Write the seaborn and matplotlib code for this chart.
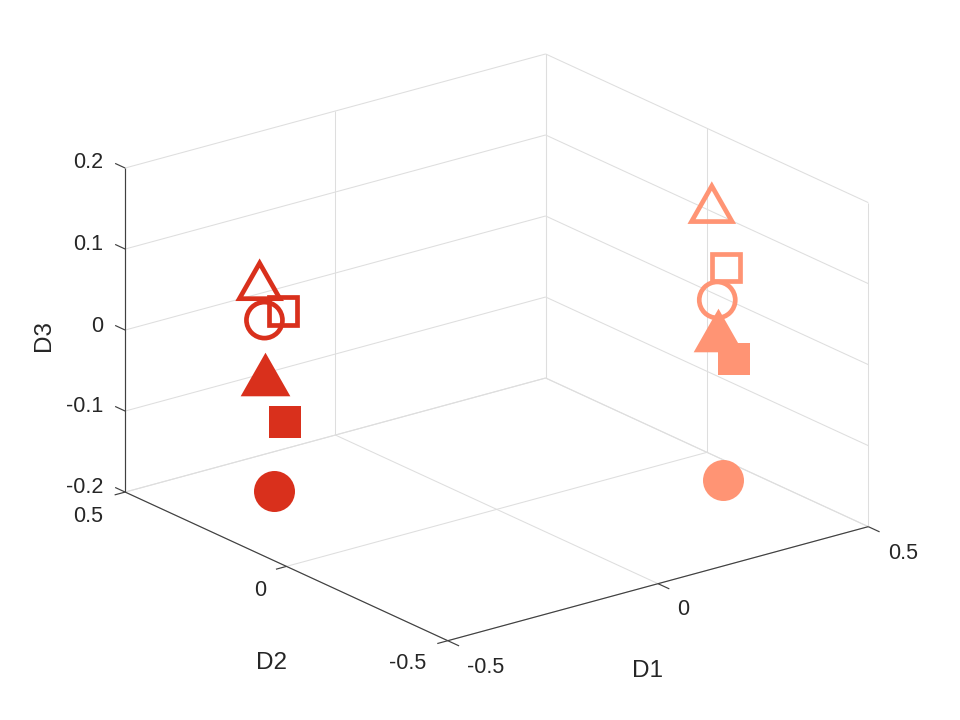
import matplotlib
matplotlib.use('Agg')
import matplotlib.pyplot as plt
from matplotlib.path import Path
import seaborn as sns

# marker positions, one array per axis
d1_dark = [-0.326, -0.270, -0.3145, -0.312, -0.266, -0.292]
d2_dark = [0.31, 0.31, 0.31, 0.31, 0.31, 0.31]
d3_dark = [0.071, 0.026, 0.021, -0.046, -0.112, -0.193]

d1_light = [0.279, 0.313, 0.292, 0.294, 0.332, 0.305]
d2_light = [-0.303, -0.303, -0.303, -0.303, -0.303, -0.303]
d3_light = [0.1935, 0.110, 0.073, 0.035, -0.006, -0.151]

shapes = ['tri', 's', 'o', 'tri', 's', 'o']
filled = [False, False, False, True, True, True]

d1_ticks = [-0.5, 0, 0.5]
d2_ticks = [-0.5, 0, 0.5]
d3_ticks = [-0.2, -0.1, 0, 0.1, 0.2]
d3_labels = ['-0.2', '-0.1', '0', '0.1', '0.2']

dark_color = '#D9301C'
light_color = '#FF9474'
grid_color = '#DEDEDE'
axis_color = '#404040'
text_color = '#262626'

sns.set_style('white')
plt.rcParams['font.family'] = ['Liberation Sans', 'DejaVu Sans']

tri_shape = Path([(-0.57, -0.5), (0.57, -0.5), (0, 0.5), (-0.57, -0.5)], closed=True)


def px(n):
    return n * 72 / 100


fig = plt.figure(figsize=(9.6, 7.2), dpi=100)
# axes larger than the figure so the box is not clipped by the square 3d axes
ax = fig.add_axes([-16.8 / 960, -140.85 / 720, 1000 / 960, 1000 / 720], projection='3d')
ax.set_proj_type('ortho')
ax.view_init(elev=20.7, azim=-127.5)
ax.set_box_aspect((530, 530, 346.4), zoom=0.8016)
ax.set_xlim(-0.5, 0.5)
ax.set_ylim(-0.5, 0.5)
ax.set_zlim(-0.2, 0.2)
ax.set_axis_off()
ax.computed_zorder = False


def line(xs, ys, zs, color=grid_color, lw=0.75):
    ax.plot(xs, ys, zs, color=color, lw=lw, solid_capstyle='butt', zorder=1)


# walls and floor grid
for v in d1_ticks:
    line([v, v], [0.5, 0.5], [-0.2, 0.2])
    line([v, v], [-0.5, 0.5], [-0.2, -0.2])
for v in d2_ticks:
    line([-0.5, 0.5], [v, v], [-0.2, -0.2])
    line([0.5, 0.5], [v, v], [-0.2, 0.2])
for v in d3_ticks:
    line([-0.5, 0.5], [0.5, 0.5], [v, v])
    line([0.5, 0.5], [-0.5, 0.5], [v, v])

# dark box edges
line([-0.5, 0.5], [-0.5, -0.5], [-0.2, -0.2], axis_color, 0.85)
line([-0.5, -0.5], [-0.5, 0.5], [-0.2, -0.2], axis_color, 0.85)
line([-0.5, -0.5], [0.5, 0.5], [-0.2, 0.2], axis_color, 0.85)

# ticks point outward from the box
for v in d1_ticks:
    line([v, v], [-0.5, -0.535], [-0.2, -0.2], axis_color, 0.85)
for v in d2_ticks:
    line([-0.5, -0.525], [v, v], [-0.2, -0.2], axis_color, 0.85)
for v in d3_ticks:
    line([-0.5, -0.5], [0.5, 0.531], [v, v], axis_color, 0.85)

# markers
for xs, ys, zs, color in [(d1_dark, d2_dark, d3_dark, dark_color),
                          (d1_light, d2_light, d3_light, light_color)]:
    for i in range(6):
        solid = filled[i]
        if shapes[i] == 'tri':
            marker, size = tri_shape, 49.7 if solid else 40.5
        elif shapes[i] == 's':
            marker, size = 's', 32 if solid else 27.5
        else:
            marker, size = 'o', 41 if solid else 36
        ax.scatter([xs[i]], [ys[i]], [zs[i]], marker=marker, s=px(size) ** 2,
                   facecolors=color if solid else 'none',
                   edgecolors=color, linewidths=0 if solid else px(4.7),
                   joinstyle='miter', depthshade=False, zorder=5 + i)


# tick labels and axis titles are placed in figure pixels
def label(x, y, s, size=15.5, ha='center', **kw):
    fig.text(x / 960, 1 - y / 720, s, fontsize=size, color=text_color,
             ha=ha, va='baseline', **kw)


for y, s in zip([493, 412, 332, 250, 168], d3_labels):
    label(103, y, s, ha='right')
label(88, 522, '0.5')
label(260, 596, '0')
label(407.5, 669, '-0.5')
label(486, 673, '-0.5')
label(683, 615, '0')
label(903, 559, '0.5')
label(272, 669, 'D2', size=17.5)
label(648, 677, 'D1', size=17.5)
label(44, 346, 'D3', size=17.5, rotation=90)

fig.savefig('out.png', dpi=100)
